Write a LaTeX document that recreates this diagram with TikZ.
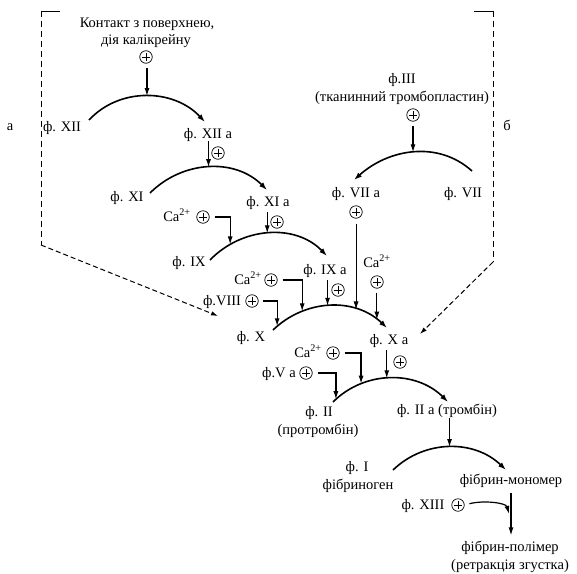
\documentclass[tikz,border=0pt]{standalone}
\usepackage{fontspec}
\setmainfont{Liberation Serif}
\usetikzlibrary{arrows.meta}
\begin{document}
\begin{tikzpicture}[x=1pt,y=-1pt,
 lbl/.style={anchor=base,inner sep=0pt,font=\fontsize{14.5}{16}\selectfont},
 pl/.style={circle,draw,line width=0.7pt,minimum size=12.5pt,inner sep=0pt,
   path picture={\draw[line width=0.7pt]
     ([xshift=-3.6pt]path picture bounding box.center) -- ([xshift=3.6pt]path picture bounding box.center)
     ([yshift=-3.6pt]path picture bounding box.center) -- ([yshift=3.6pt]path picture bounding box.center);}},
 reac/.style={line width=1.6pt,-{Latex[length=8pt,width=5.5pt]}},
 act/.style={line width=1.2pt,-{Latex[length=8pt,width=5pt]}},
 thinact/.style={line width=0.8pt,-{Latex[length=8pt,width=5pt]}},
 dsh/.style={line width=1pt,dash pattern=on 6pt off 4pt},
 dsharr/.style={line width=1pt,dash pattern=on 5pt off 3pt,-{Latex[length=7pt,width=4.5pt]}},
]
\useasboundingbox (0,0) rectangle (577,573);

% ---- labels and activators
\node[lbl] (contact1) at (147,27) {Контакт з поверхнею,};
\node[lbl] (contact2) at (146,44) {дія калікрейну};
\node[pl] (p0) at (146,57) {};
\node[lbl] (f12) at (62,131) {ф. XII};
\node[lbl] (f12a) at (208,138) {ф. XII а};
\node[pl] (p1) at (218,153) {};
\node[lbl] (f11) at (127,201) {ф. XI};
\node[lbl] (f11a) at (268,206) {ф. XI а};
\node[pl] (p2) at (277,222) {};
\node[lbl] (ca1) at (177,221) {Ca\textsuperscript{2+}};
\node[pl] (p3) at (203,217) {};
\node[lbl] (f9) at (189,266) {ф. IX};
\node[lbl] (f9a) at (325,274) {ф. IX а};
\node[pl] (p4) at (338,290) {};
\node[lbl] (f3a) at (402,83) {ф.III};
\node[lbl] (f3b) at (402,101) {(тканинний тромбопластин)};
\node[pl] (p5) at (413,115) {};
\node[lbl] (f7a) at (356,197) {ф. VII а};
\node[lbl] (f7) at (463,197) {ф. VII};
\node[pl] (p6) at (356,212) {};
\node[lbl] (ca2) at (377,267) {Ca\textsuperscript{2+}};
\node[pl] (p7) at (377,282) {};
\node[lbl] (ca3) at (248,284) {Ca\textsuperscript{2+}};
\node[pl] (p8) at (271,280) {};
\node[lbl] (f8) at (222,305) {ф.VIII};
\node[pl] (p9) at (252,301) {};
\node[lbl] (f10) at (251,341) {ф. X};
\node[lbl] (f10a) at (389,344) {ф. X а};
\node[pl] (p10) at (400,362) {};
\node[lbl] (ca4) at (308,357) {Ca\textsuperscript{2+}};
\node[pl] (p11) at (333,353) {};
\node[lbl] (f5a) at (279,377) {ф.V а};
\node[pl] (p12) at (306,373) {};
\node[lbl] (f2) at (319,416) {ф. II};
\node[lbl] (f2b) at (318,434) {(протромбін)};
\node[lbl] (f2a) at (447,414) {ф. II а (тромбін)};
\node[lbl] (f1) at (357,471) {ф. I};
\node[lbl] (f1b) at (358,489) {фібриноген};
\node[lbl] (fm) at (511,484) {фібрин-мономер};
\node[lbl] (f13) at (423,509) {ф. XIII};
\node[pl] (p13) at (458,505) {};
\node[lbl] (fp) at (510,551) {фібрин-полімер};
\node[lbl] (fp2) at (510,569) {(ретракція згустка)};
\node[lbl] (la) at (10,130) {а};
\node[lbl] (lb) at (507,130) {б};

% ---- arc end points
\coordinate (s12) at (89,120);  \coordinate (e12) at (205,122);
\coordinate (s11) at (150,193); \coordinate (e11) at (267,190);
\coordinate (s9) at (210,260);  \coordinate (e9) at (327,256);
\coordinate (s7) at (472,171);  \coordinate (e7) at (354,180);
\coordinate (s10) at (273,330); \coordinate (e10) at (387,328);
\coordinate (s2) at (333,402);  \coordinate (e2) at (448,402);
\coordinate (s1) at (393,470);  \coordinate (e1) at (506,470);

% ---- reaction arcs
\draw[reac] (s12) to[out=47,in=133] coordinate[pos=0.5] (k12) (e12);
\draw[reac] (s11) to[out=45,in=135] coordinate[pos=0.5] (k11) (e11);
\draw[reac] (s9) to[out=46,in=134] coordinate[pos=0.19] (k9a) coordinate[pos=0.49] (k9b) (e9);
\draw[reac] (s7) to[out=138,in=42] coordinate[pos=0.5] (k7) (e7);
\draw[reac] (s10) to[out=44,in=136] coordinate[pos=0.042] (k10a) coordinate[pos=0.27] (k10b)
   coordinate[pos=0.48] (k10c) coordinate[pos=0.715] (k10d) coordinate[pos=0.9] (k10e) (e10);
\draw[reac] (s2) to[out=45,in=135] coordinate[pos=0.03] (k2a) coordinate[pos=0.26] (k2b) coordinate[pos=0.47] (k2c) (e2);
\draw[reac] (s1) to[out=44,in=136] coordinate[pos=0.5] (k1) (e1);

% ---- activation arrows
\draw[act,shorten <=4pt] (p0.south -| k12) -- (k12);
\draw[act] (f12a.south -| k11) -- (k11);
\draw[act,shorten <=3pt] (f11a.south -| k9b) -- (k9b);
\draw[act,shorten <=5pt] (p3.east) -| (k9a);
\draw[act,shorten <=3pt] (f9a.south -| k10c) -- (k10c);
\draw[act,shorten <=4pt] (p5.south -| k7) -- (k7);
\draw[thinact,shorten <=5pt] (p6.south -| k10d) -- (k10d);
\draw[act,shorten <=4pt] (p7.south -| k10e) -- (k10e);
\draw[act,shorten <=5pt] (p8.east) -| (k10b);
\draw[act,shorten <=4pt] (p9.east) -| (k10a);
\draw[act,shorten <=3pt] (f10a.south -| k2c) -- (k2c);
\draw[act,shorten <=5pt] (p11.east) -| (k2b);
\draw[act,shorten <=5pt] (p12.east) -| (k2a);
\draw[act,shorten <=1pt] (f2a.south -| k1) -- (k1);
\draw[act,shorten <=6pt,shorten >=5pt] (fm.south) -- coordinate[pos=0.5] (fmid) (fm.south |- fp.north);
\draw[act,shorten <=5pt] (p13.east) .. controls +(19,-5) and +(-3,-11) .. ([xshift=-2pt]fmid);

% ---- dashed pathways
\coordinate (ta) at (60,11); \coordinate (ca) at (41,11); \coordinate (da) at (41,245); \coordinate (ea) at (218,316);
\coordinate (tb) at (474,11); \coordinate (cb) at (493,11); \coordinate (db) at (493,262); \coordinate (eb) at (420,334);
\draw[line width=1pt] (ta) -- (ca);
\draw[dsh] (ca) -- (da);
\draw[dsharr] (da) -- (ea);
\draw[line width=1pt] (tb) -- (cb);
\draw[dsh] (cb) -- (db);
\draw[dsharr] (db) -- (eb);
\end{tikzpicture}
\end{document}
